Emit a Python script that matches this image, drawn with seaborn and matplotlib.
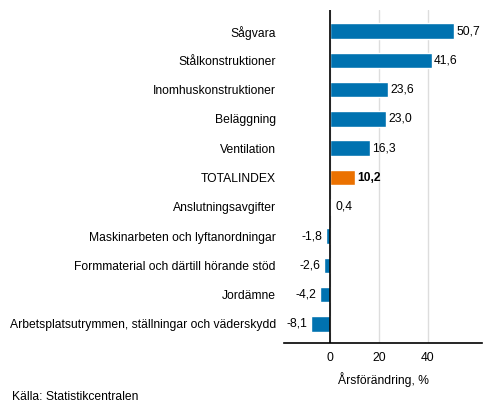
import matplotlib
matplotlib.use("Agg")
import matplotlib.pyplot as plt
import seaborn as sns
import pandas as pd

categories = ["Sågvara", "Stålkonstruktioner", "Inomhuskonstruktioner", "Beläggning",
              "Ventilation", "TOTALINDEX", "Anslutningsavgifter",
              "Maskinarbeten och lyftanordningar", "Formmaterial och därtill hörande stöd",
              "Jordämne", "Arbetsplatsutrymmen, ställningar och väderskydd"]
values = [50.7, 41.6, 23.6, 23.0, 16.3, 10.2, 0.4, -1.8, -2.6, -4.2, -8.1]
labels = ["50,7", "41,6", "23,6", "23,0", "16,3", "10,2", "0,4", "-1,8", "-2,6", "-4,2", "-8,1"]
xticks = [0, 20, 40]

BLUE = "#0072b0"
ORANGE = "#eb7100"
FS = 8.7

sns.set_theme(style="white")
plt.rcParams['font.family'] = ['Liberation Sans', 'DejaVu Sans']
plt.rcParams.update({"text.color": "black", "axes.labelcolor": "black",
                     "xtick.color": "black", "ytick.color": "black"})

df = pd.DataFrame({"cat": categories, "val": values})
palette = [ORANGE if c == "TOTALINDEX" else BLUE for c in categories]

fig = plt.figure(figsize=(4.93, 4.16), dpi=100)
ax = fig.add_axes([0.5767, 0.1748, 0.978 - 0.5767, 0.976 - 0.1748])
sns.barplot(data=df, x="val", y="cat", hue="cat", palette=palette, legend=False,
            width=0.53, ax=ax, saturation=1, zorder=3)

ax.set_xlim(-18.9, 62.4)
ax.set_ylim(10.66, -0.72)
ax.set_xticks(xticks)
ax.set_xticklabels([str(t) for t in xticks], fontsize=FS)
ax.grid(axis="x", color="#dddddd", linewidth=1, zorder=0)
ax.axvline(0, color="#000000", linewidth=1.2, zorder=4)
for s in ["top", "right", "left"]:
    ax.spines[s].set_visible(False)
ax.spines["bottom"].set_color("#000000")
ax.spines["bottom"].set_linewidth(1.2)
ax.tick_params(axis="y", length=0, labelsize=FS, pad=6, colors="black")
ax.tick_params(axis="x", length=0, labelsize=FS, pad=6, colors="black")
ax.set_ylabel("")
ax.set_xlabel("Årsförändring, %", fontsize=FS, labelpad=6, color="black")

for i, (v, lab, c) in enumerate(zip(values, labels, categories)):
    bold = "bold" if c == "TOTALINDEX" else "normal"
    if v >= 0:
        ax.text(max(v, 1.0) + 1.0, i, lab, va="center", ha="left", fontsize=FS,
                fontweight=bold, color="black")
    else:
        ax.text(v - 1.5, i, lab, va="center", ha="right", fontsize=FS,
                fontweight=bold, color="black")

fig.text(12 / 493, 1 - 397 / 416, "Källa: Statistikcentralen", fontsize=FS,
         va="center", ha="left", color="black")

fig.savefig("out.png", dpi=100)
